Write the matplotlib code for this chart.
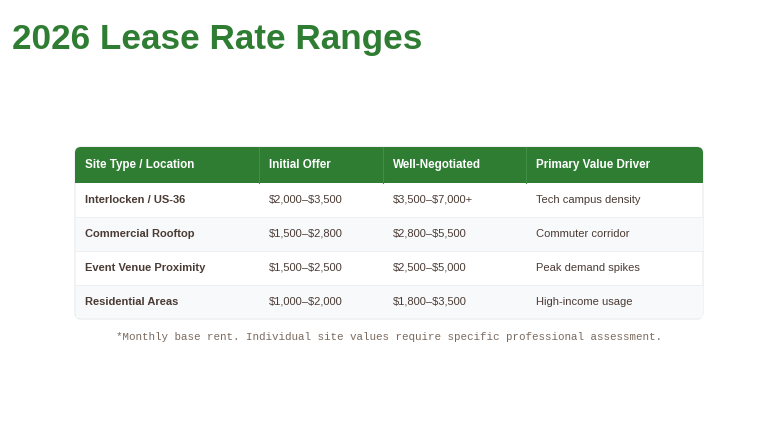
import matplotlib.pyplot as plt
from matplotlib.patches import FancyBboxPatch, Rectangle

headers = ["Site Type / Location", "Initial Offer", "Well-Negotiated", "Primary Value Driver"]
sites = ["Interlocken / US-36", "Commercial Rooftop", "Event Venue Proximity", "Residential Areas"]
initial = ["$2,000\u2013$3,500", "$1,500\u2013$2,800", "$1,500\u2013$2,500", "$1,000\u2013$2,000"]
negotiated = ["$3,500\u2013$7,000+", "$2,800\u2013$5,500", "$2,500\u2013$5,000", "$1,800\u2013$3,500"]
drivers = ["Tech campus density", "Commuter corridor", "Peak demand spikes", "High-income usage"]

GREEN = "#2e7d32"
TEXT = "#4a3b35"

plt.rcParams["font.family"] = ["Liberation Sans", "DejaVu Sans"]
plt.rcParams["text.parse_math"] = False

fig = plt.figure(figsize=(7.75, 4.4), dpi=100)
ax = fig.add_axes([0, 0, 1, 1])
ax.set_xlim(0, 775)
ax.set_ylim(440, 0)
ax.axis("off")

ax.text(12, 40, "2026 Lease Rate Ranges", fontsize=25.3, fontweight="bold", color=GREEN, va="center")

left, right = 75, 703
top, head_h, row_h = 147, 36, 34
col_x = [75, 259, 383, 526]
bottom = top + head_h + row_h * len(sites)

# outer card
ax.add_patch(FancyBboxPatch((left, top), right - left, bottom - top,
                            boxstyle="round,pad=0,rounding_size=6", fc="white", ec="#e6e9ec", lw=0.8))
ax.add_patch(FancyBboxPatch((left, top), right - left, head_h,
                            boxstyle="round,pad=0,rounding_size=6", fc=GREEN, ec="none"))
ax.add_patch(Rectangle((left, top + head_h - 8), right - left, 8, fc=GREEN, ec="none"))
for cx in col_x[1:]:
    ax.plot([cx, cx], [top, top + head_h], color="#3f8f45", lw=0.8)
for i, h in enumerate(headers):
    ax.text(col_x[i] + 10, top + head_h / 2, h, color="white", fontsize=8.4, fontweight="bold", va="center")

rows = list(zip(sites, initial, negotiated, drivers))
for r, vals in enumerate(rows):
    y0 = top + head_h + r * row_h
    if r % 2 == 1:
        ax.add_patch(Rectangle((left + 0.5, y0), right - left - 1, row_h - 0.5 if r == len(rows) - 1 else row_h,
                               fc="#f7f9fa", ec="none"))
    if r > 0:
        ax.plot([left, right], [y0, y0], color="#edf0f2", lw=0.7)
    for i, v in enumerate(vals):
        ax.text(col_x[i] + 10, y0 + row_h / 2, v, color=TEXT, fontsize=8,
                fontweight="bold" if i == 0 else "normal", va="center")

ax.text(389, 337, "*Monthly base rent. Individual site values require specific professional assessment.",
        family=["Liberation Mono", "DejaVu Sans Mono"], fontsize=7.8, color="#7a6a5e", ha="center", va="center")

fig.savefig("out.png", dpi=100)
